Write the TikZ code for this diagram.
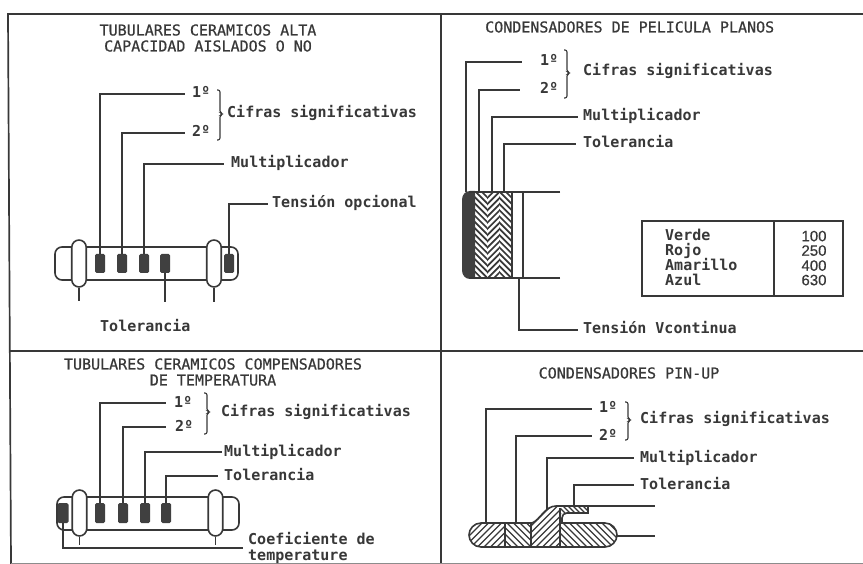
\documentclass[tikz,border=0pt]{standalone}
\usepackage{fontspec}
\newfontfamily\labfont{DejaVu Sans Mono}[FakeBold=0.6]
\newfontfamily\labboldfont{DejaVu Sans Mono Bold}
\newfontfamily\numfont{Liberation Sans}[FakeBold=0.4]
\definecolor{ink}{gray}{0.22}
\definecolor{bandfill}{gray}{0.25}
\newcommand{\hatch}[7]{%
  \begin{scope}
    \clip #1;
    \pgfmathsetmacro{\hh}{#5-#4}
    \pgfmathsetmacro{\xa}{#2-\hh-#7}
    \pgfmathsetmacro{\xb}{\xa+#7}
    \pgfmathsetmacro{\xc}{#3+\hh+#7}
    \foreach \qq in {\xa,\xb,...,\xc} {
      \ifnum#6>0
        \draw[hatchline] (\qq,#5) -- (\qq+\hh,#4);
      \else
        \draw[hatchline] (\qq,#4) -- (\qq+\hh,#5);
      \fi
    }
  \end{scope}}
\tikzset{
  x=1pt,y=-1pt,
  every node/.style={text=ink},
  framelines/.style={draw=ink,line width=1.7pt},
  faintline/.style={draw=black!45,line width=0.7pt},
  leader/.style={draw=ink,line width=1.2pt},
  outline/.style={draw=ink,line width=1.6pt},
  hatchline/.style={draw=ink,line width=1.2pt},
  thickhatch/.style={hatchline/.style={draw=ink,line width=1.7pt}},
  band/.style={draw=none,fill=bandfill,rounded corners=1.5pt,minimum width=10pt,inner sep=0pt},
  flange/.style={draw=ink,line width=1.6pt,fill=white,rounded corners=7.4pt,minimum width=14.5pt,inner sep=0pt},
  titletext/.style={font=\labfont\fontsize{15}{16}\selectfont,align=center,inner sep=0pt},
  lbl/.style={font=\labboldfont\fontsize{15}{16}\selectfont,anchor=west,text height=8pt,text depth=0pt,inner ysep=0pt,inner xsep=#1},
  lbl/.default=0pt,
  brace/.style={draw=ink,line width=1.1pt,rounded corners=2pt},
  tabletext/.style={font=\labboldfont\fontsize{15}{15}\selectfont,align=left,inner sep=0pt,anchor=west,text height=8pt,text depth=0pt},
  numtext/.style={font=\numfont\fontsize{15}{15}\selectfont,align=right,inner sep=0pt,text height=10.5pt,text depth=0pt},
}
\begin{document}
\begin{tikzpicture}
\useasboundingbox[fill=white] (0,0) rectangle (863,564);
% frame
\coordinate (ftl) at (8,14); \coordinate (ftr) at (863,14);
\coordinate (fbl) at (11,564); \coordinate (mtop) at (441,14); \coordinate (mbot) at (441,564);
\coordinate (hl) at (10,351); \coordinate (hr) at (863,351);
\coordinate (bl) at (11,563); \coordinate (br) at (863,563);
\draw[framelines] (fbl) -- (ftl) -- (ftr);
\draw[framelines] (mtop) -- (mbot);
\draw[framelines] (hl) -- (hr);
\draw[faintline] (bl) -- (br);

% ---- panel 1
\node[titletext] (t1) at (208,38) {TUBULARES CERAMICOS ALTA\\CAPACIDAD AISLADOS O NO};
\draw[outline,fill=white,rounded corners=7pt] (55,247) rectangle (238,280);
\node[flange,minimum height=47pt] (fl1) at (79,263.5) {};
\node[flange,minimum height=47pt] (fl2) at (214,263.5) {};
\node[band,minimum height=19pt] (b11) at (100,263.5) {};
\node[band,minimum height=19pt] (b12) at (122,263.5) {};
\node[band,minimum height=19pt] (b13) at (144,263.5) {};
\node[band,minimum height=19pt] (b14) at (165,263.5) {};
\node[band,minimum height=19pt] (b15) at (229,263.5) {};
\node[lbl=7pt] (l11) at (185,94) {1º};
\node[lbl=7pt] (l12) at (185,133) {2º};
\node[lbl] (c1) at (227,114) {Cifras significativas};
\node[lbl=7pt] (l13) at (224,164) {Multiplicador};
\node[lbl=4pt] (l14) at (268,204) {Tensión opcional};
\node[lbl] (l15) at (100,328) {Tolerancia};
\draw[leader] (b11.north) |- (l11.west);
\draw[leader] (b12.north) |- (l12.west);
\draw[leader] (b13.north) |- (l13.west);
\draw[leader] (b15.north) |- (l14.west);
\coordinate (e11) at (165,302); \coordinate (e12) at (79,301); \coordinate (e13) at (214,302);
\draw[leader] (b14.south) -- (e11);
\draw[leader] (fl1.south) -- (e12);
\draw[leader] (fl2.south) -- (e13);
\draw[brace] (217,90) -- (220,90) -- (220,113) -- (223,114) -- (220,115) -- (220,140) -- (217,140);

% ---- panel 2
\node[titletext,anchor=west] (t2) at (485,27) {CONDENSADORES DE PELICULA PLANOS};
\coordinate (p21) at (466,192); \coordinate (p22) at (479,192); \coordinate (p23) at (492,192); \coordinate (p24) at (504,192);
\node[lbl=7pt] (l21) at (522,62) {\hspace{11pt}1º};
\node[lbl=7pt] (l22) at (520,90) {\hspace{13pt}2º};
\node[lbl] (c2) at (583,72) {Cifras significativas};
\node[lbl=5pt] (l23) at (578,117) {Multiplicador};
\node[lbl=7pt] (l24) at (576,144) {Tolerancia};
\node[lbl=5pt] (l25) at (578,330) {Tensión Vcontinua};
\draw[leader] (p21) |- (l21.west);
\draw[leader] (p22) |- (l22.west);
\draw[leader] (p23) |- (l23.west);
\draw[leader] (p24) |- (l24.west);
\coordinate (p25) at (519,278);
\draw[leader] (p25) |- (l25.west);
\begin{scope}[thickhatch]
\hatch{(475,192) rectangle (487,278)}{475}{487}{192}{278}{-1}{6.2}
\hatch{(487,192) rectangle (499,278)}{487}{499}{192}{278}{1}{6.2}
\hatch{(499,192) rectangle (512,278)}{499}{512}{192}{278}{-1}{6.2}
\end{scope}
\fill[bandfill] (475,191) -- (470,191) .. controls (465,191) and (462,195) .. (462,200) -- (462,270) .. controls (462,275) and (465,279) .. (470,279) -- (475,279) -- cycle;
\draw[outline] (560,192) -- (469,192);
\draw[outline] (560,278) -- (469,278);
\draw[outline] (512,192) -- (512,278);
\draw[outline] (523,192) -- (523,278);
\draw[brace] (564,50) -- (567,50) -- (567,72) -- (570,73) -- (567,74) -- (567,98) -- (564,98);
\draw[outline] (642,221) rectangle (843,296);
\draw[outline] (774,221) -- (774,296);
\node[tabletext] (v1) at (665,237) {Verde};
\node[tabletext] (v2) at (665,252) {Rojo};
\node[tabletext] (v3) at (665,267) {Amarillo};
\node[tabletext] (v4) at (665,282) {Azul};
\node[numtext] (n1) at (814,236) {100};
\node[numtext] (n2) at (814,250.5) {250};
\node[numtext] (n3) at (814,265.5) {400};
\node[numtext] (n4) at (814,280) {630};

% ---- panel 3
\node[titletext] (t3) at (213,372) {TUBULARES CERAMICOS COMPENSADORES\\DE TEMPERATURA};
\draw[outline,fill=white,rounded corners=7pt] (57,497) rectangle (239,530);
\node[flange,minimum height=46pt] (fl3) at (79.5,513) {};
\node[flange,minimum height=46pt] (fl4) at (215.5,513) {};
\node[band,minimum height=20pt] (b31) at (100,513) {};
\node[band,minimum height=20pt] (b32) at (123,513) {};
\node[band,minimum height=20pt] (b33) at (145,513) {};
\node[band,minimum height=20pt] (b34) at (166,513) {};
\node[band,minimum height=20pt,minimum width=11pt] (b35) at (63,513) {};
\node[lbl=7pt] (l31) at (166,403) {\hspace{1pt}1º};
\node[lbl=7pt] (l32) at (166,427) {\hspace{2pt}2º};
\node[lbl] (c3) at (221,413) {Cifras significativas};
\node[lbl=2pt] (l33) at (222,452) {Multiplicador};
\node[lbl=6pt] (l34) at (218,476) {Tolerancia};
\node[lbl] (l35) at (248,540) {Coeficiente de};
\node[lbl] (l36) at (248,556) {temperature};
\coordinate (e31) at (243,548); \coordinate (e32) at (79.5,545); \coordinate (e33) at (215.5,545);
\draw[leader] (b31.north) |- (l31.west);
\draw[leader] (b32.north) |- (l32.west);
\draw[leader] (b33.north) |- (l33.west);
\draw[leader] (b34.north) |- (l34.west);
\draw[leader] (b35.south) |- (e31);
\draw[leader] (fl3.south) -- (e32);
\draw[leader] (fl4.south) -- (e33);
\draw[brace] (204,393) -- (207,393) -- (207,411) -- (210,412) -- (207,413) -- (207,434) -- (204,434);

% ---- panel 4
\node[titletext] (t4) at (629,373) {CONDENSADORES PIN-UP};
\def\bodyp{(481,523) -- (532,523) .. controls (540,520) and (545,506) .. (556,506) -- (588,506) -- (588,513) -- (567,513) .. controls (564,513) and (562,515) .. (562,518) -- (562,523) -- (605,523) .. controls (612,523) and (617,529) .. (617,535) .. controls (617,541) and (612,547) .. (605,547) -- (481,547) .. controls (474,547) and (469,541) .. (469,535) .. controls (469,529) and (474,523) .. (481,523) -- cycle}
\begin{scope}
\clip \bodyp;
\hatch{(469,523) rectangle (505,547)}{469}{505}{523}{547}{1}{6.5}
\hatch{(505,523) rectangle (531,547)}{505}{531}{523}{547}{-1}{6.5}
\hatch{(531,500) rectangle (561,547)}{531}{561}{500}{547}{1}{6.5}
\hatch{(561,523) rectangle (618,547)}{561}{618}{523}{547}{-1}{6.5}
\hatch{(561,505) rectangle (590,514)}{561}{590}{505}{514}{-1}{5}
\end{scope}
\draw[outline] \bodyp;
\draw[leader] (505,523) -- (505,547);
\draw[leader] (531,523) -- (531,547);
\draw[leader] (560,508) -- (560,547);
\coordinate (p41) at (486,523); \coordinate (p42) at (516,523); \coordinate (p43) at (547,510); \coordinate (p44) at (574,506);
\coordinate (e41) at (655,506); \coordinate (e42) at (655,536); \coordinate (s41) at (588,506); \coordinate (s42) at (617,536);
\draw[leader] (s41) -- (e41);
\draw[leader] (s42) -- (e42);
\node[lbl=7pt] (l41) at (592,409) {1º};
\node[lbl=7pt] (l42) at (592,436) {2º};
\node[lbl] (c4) at (640,419) {Cifras significativas};
\node[lbl=6pt] (l43) at (634,458) {Multiplicador};
\node[lbl=6pt] (l44) at (634,485) {Tolerancia};
\draw[leader] (p41) |- (l41.west);
\draw[leader] (p42) |- (l42.west);
\draw[leader] (p43) |- (l43.west);
\draw[leader] (p44) |- (l44.west);
\draw[brace] (625,402) -- (628,402) -- (628,419) -- (631,420) -- (628,421) -- (628,440) -- (625,440);
\end{tikzpicture}
\end{document}
